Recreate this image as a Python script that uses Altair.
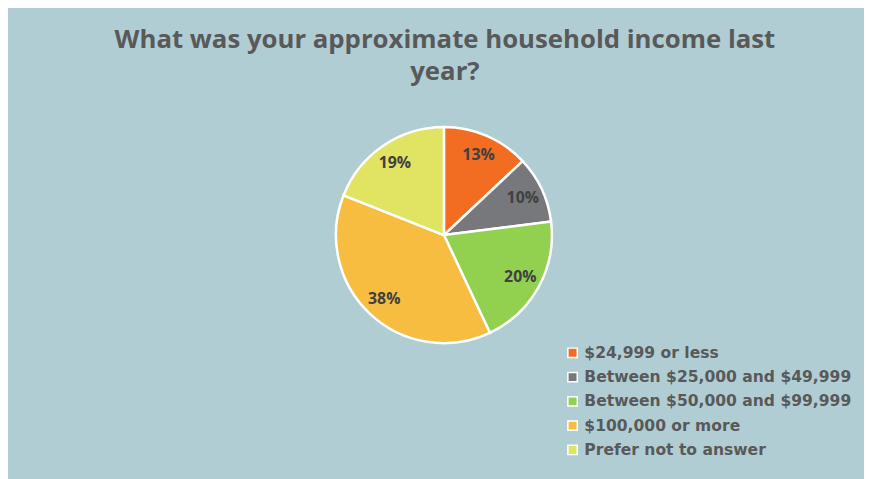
import altair as alt
import pandas as pd

categories = ["$24,999 or less", "Between $25,000 and $49,999", "Between $50,000 and $99,999",
              "$100,000 or more", "Prefer not to answer"]
values = [13, 10, 20, 38, 19]
colors = ["#f26c22", "#77787c", "#92d050", "#f6bd41", "#e1e462"]
title_lines = ["What was your approximate household income last", "year?"]

df = pd.DataFrame({
    "category": categories,
    "value": values,
    "order": list(range(len(categories))),
    "label": [f"{v}%" for v in values],
})

FONT = "Open Sans"
cx, cy = 440, 227

base = alt.Chart(df).encode(
    theta=alt.Theta("value:Q", stack=True),
    order=alt.Order("order:Q"),
)

pie = base.mark_arc(outerRadius=109, stroke="white", strokeWidth=2.5).encode(
    x=alt.value(cx), y=alt.value(cy),
    color=alt.Color("category:N", sort=categories,
                    scale=alt.Scale(domain=categories, range=colors),
                    legend=alt.Legend(title=None, orient="none", legendX=562, legendY=338,
                                      symbolType="square", symbolSize=90,
                                      symbolStrokeColor="white", symbolStrokeWidth=1.5,
                                      labelFont="DejaVu Sans", labelFontSize=15.7,
                                      labelFontWeight="bold",
                                      labelColor="#595959", rowPadding=7.5, labelOffset=4,
                                      labelLimit=400)),
)

text = base.mark_text(radius=88, font=FONT, fontSize=16, fontWeight="bold",
                      color="#404040").encode(
    x=alt.value(cx), y=alt.value(cy),
    text="label:N",
)

title = alt.Chart(pd.DataFrame({"t": [title_lines]})).mark_text(
    font=FONT, fontSize=26, fontWeight="bold", color="#595959",
    baseline="alphabetic", align="center", lineHeight=32,
).encode(x=alt.value(441), y=alt.value(38), text="t")

chart = alt.layer(pie, text, title).properties(
    width=864, height=471,
    autosize=alt.AutoSizeParams(type="none"),
    padding=0,
    background="#b0cdd4",
).configure_view(stroke=None)

chart.save("out.html", embed_options={"renderer": "svg", "actions": False})
